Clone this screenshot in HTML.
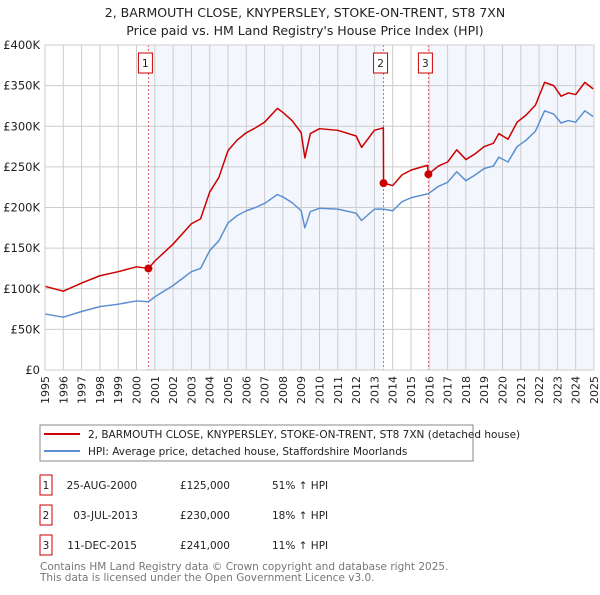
<!DOCTYPE html>
<html><head><meta charset="utf-8"><style>
body{margin:0;background:#fff;font-family:"Liberation Sans","DejaVu Sans",sans-serif}
svg text{font-family:"DejaVu Sans","Liberation Sans",sans-serif}
</style></head><body>
<svg id="c" width="600" height="590" xmlns="http://www.w3.org/2000/svg">
<text x="305" y="17" font-size="12.5" text-anchor="middle" fill="#222">2, BARMOUTH CLOSE, KNYPERSLEY, STOKE-ON-TRENT, ST8 7XN</text>
<text x="305" y="35" font-size="12.5" text-anchor="middle" fill="#222">Price paid vs. HM Land Registry's House Price Index (HPI)</text>
<g id="plot"></g>
<rect x="40" y="425" width="433" height="36" fill="#fff" stroke="#888"/>
<line x1="44" y1="434" x2="80" y2="434" stroke="#cc0000" stroke-width="2"/>
<text x="88" y="438" font-size="10.5" fill="#222">2, BARMOUTH CLOSE, KNYPERSLEY, STOKE-ON-TRENT, ST8 7XN (detached house)</text>
<line x1="44" y1="451" x2="80" y2="451" stroke="#5b8fd0" stroke-width="2"/>
<text x="88" y="455" font-size="10.5" fill="#222">HPI: Average price, detached house, Staffordshire Moorlands</text>
<g font-size="10.5" fill="#222">
<rect x="40" y="475" width="12" height="20" fill="#fff" stroke="#cc0000"/>
<text x="46" y="489" text-anchor="middle">1</text>
<text x="137" y="489" text-anchor="end">25-AUG-2000</text>
<text x="230" y="489" text-anchor="end">£125,000</text>
<text x="272" y="489">51% ↑ HPI</text>
<rect x="40" y="505" width="12" height="20" fill="#fff" stroke="#cc0000"/>
<text x="46" y="519" text-anchor="middle">2</text>
<text x="138" y="519" text-anchor="end">03-JUL-2013</text>
<text x="230" y="519" text-anchor="end">£230,000</text>
<text x="272" y="519">18% ↑ HPI</text>
<rect x="40" y="535" width="12" height="20" fill="#fff" stroke="#cc0000"/>
<text x="46" y="549" text-anchor="middle">3</text>
<text x="137" y="549" text-anchor="end">11-DEC-2015</text>
<text x="230" y="549" text-anchor="end">£241,000</text>
<text x="272" y="549">11% ↑ HPI</text>
</g>
<text x="40" y="570" font-size="10.5" fill="#777">Contains HM Land Registry data © Crown copyright and database right 2025.</text>
<text x="40" y="581" font-size="10.5" fill="#777">This data is licensed under the Open Government Licence v3.0.</text>
</svg>
<script>
const hpiYears=[1995,1996,1997,1998,1999,2000,2000.65,2001,2002,2003,2003.5,2004,2004.5,2005,2005.5,2006,2006.5,2007,2007.7,2008,2008.5,2009,2009.2,2009.5,2010,2011,2012,2012.3,2013,2013.5,2014,2014.5,2015,2015.95,2016.5,2017,2017.5,2018,2018.5,2019,2019.5,2019.8,2020.3,2020.8,2021.3,2021.8,2022.3,2022.8,2023.2,2023.6,2024,2024.5,2024.95];
const hpiValues=[69,65,72,78,81,85,84,90,104,121,125,147,159,181,190,196,200,205,216,213,206,196,175,195,199,198,193,184,198,198,196,207,212,217,226,231,244,233,240,248,251,262,256,275,283,294,319,315,304,307,305,319,312];
const propYears=[1995,1996,1997,1998,1999,2000,2000.65,2001,2002,2003,2003.5,2004,2004.5,2005,2005.5,2006,2006.5,2007,2007.7,2008,2008.5,2009,2009.2,2009.5,2010,2011,2012,2012.3,2013,2013.49,2013.5,2014,2014.5,2015,2015.9,2015.95,2016.5,2017,2017.5,2018,2018.5,2019,2019.5,2019.8,2020.3,2020.8,2021.3,2021.8,2022.3,2022.8,2023.2,2023.6,2024,2024.5,2024.95];
const propValues=[103,97,107,116,121,127,125,134,155,180,186,219,237,270,283,292,298,305,322,317,307,292,261,291,297,295,288,274,295,298,230,227,240,246,252,241,251,256,271,259,266,275,279,291,284,305,314,326,354,350,337,341,339,354,346];
const saleYears=[2000.65,2013.5,2015.95];
const saleValues=[125,230,241];
const saleLabels=["1","2","3"];
const yTicks=[0,50,100,150,200,250,300,350,400];
const yTickLabels=["£0","£50K","£100K","£150K","£200K","£250K","£300K","£350K","£400K"];
const xTicks=[1995,1996,1997,1998,1999,2000,2001,2002,2003,2004,2005,2006,2007,2008,2009,2010,2011,2012,2013,2014,2015,2016,2017,2018,2019,2020,2021,2022,2023,2024,2025];

const L=45,R=594,T=45,B=370;
const x=v=>L+(v-1995)/30*(R-L);
const y=v=>B-v/400*(B-T);
const NS='http://www.w3.org/2000/svg';
const g=document.getElementById('plot');
function mk(t,a,p){const e=document.createElementNS(NS,t);for(const k in a)e.setAttribute(k,a[k]);(p||g).appendChild(e);return e;}

const bg=mk('rect',{x:L,y:T,width:R-L,height:B-T,fill:'#fff'});


const bounds=[[saleYears[0],saleYears[1]],[saleYears[2],2025]];
bounds.forEach((b,i)=>{const r=mk('rect',{x:x(b[0]),y:T,width:x(b[1])-x(b[0]),height:B-T,fill:'#eef3fc',opacity:0.7});

});
xTicks.forEach(v=>{const l=mk('line',{x1:x(v),x2:x(v),y1:T,y2:B,stroke:'#ccc','stroke-width':1});


const t=mk('text',{x:0,y:0,'font-size':11,fill:'#222','text-anchor':'end',transform:`translate(${x(v)+4},${B+6}) rotate(-90)`});
t.textContent=v;

});
yTicks.forEach((v,i)=>{const l=mk('line',{x1:L,x2:R,y1:y(v),y2:y(v),stroke:'#ccc','stroke-width':1});


const t=mk('text',{x:40,y:y(v)+4,'font-size':11.5,fill:'#222','text-anchor':'end'});
t.textContent=yTickLabels[i];

});
saleYears.forEach((s,i)=>{const l=mk('line',{x1:x(s),x2:x(s),y1:T,y2:B,stroke:'#e06060','stroke-width':1,'stroke-dasharray':'2,2'});


const r=mk('rect',{x:x(s)-10,y:53,width:14,height:20,fill:'#fff',stroke:'#cc0000'});


const t=mk('text',{x:x(s)-3,y:67,'font-size':10.5,fill:'#222','text-anchor':'middle'});
t.textContent=saleLabels[i];

});
const hp=mk('polyline',{points:hpiYears.map((v,i)=>x(v)+','+y(hpiValues[i])).join(' '),fill:'none',stroke:'#5b8fd0','stroke-width':1.5,'stroke-linejoin':'round'});


const pp=mk('polyline',{points:propYears.map((v,i)=>x(v)+','+y(propValues[i])).join(' '),fill:'none',stroke:'#cc0000','stroke-width':1.5,'stroke-linejoin':'round'});


saleYears.forEach((s,i)=>{const c=mk('circle',{cx:x(s),cy:y(saleValues[i]),r:4,fill:'#cc0000'});

});
const ax=mk('rect',{x:L,y:T,width:R-L,height:B-T,fill:'none',stroke:'#ccc'});


</script>
</body></html>
